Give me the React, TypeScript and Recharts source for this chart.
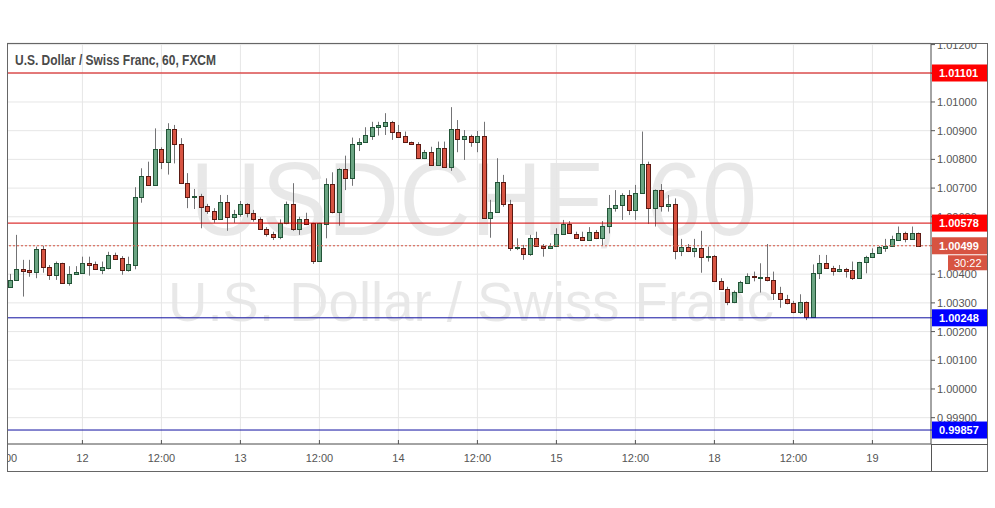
import React from 'react';
import { ComposedChart, Bar, XAxis, YAxis, CartesianGrid, ReferenceLine } from 'recharts';

// ---- data (hourly candles, USDCHF 60) ----
const opens = [
  1.00354, 1.00379, 1.00418, 1.00414, 1.00407, 1.00487, 1.00424, 1.00398, 1.00438, 1.00370,
  1.00400, 1.00405, 1.00439, 1.00435, 1.00416, 1.00423, 1.00466, 1.00456, 1.00416, 1.00433,
  1.00668, 1.00742, 1.00710, 1.00836, 1.00790, 1.00905, 1.00853, 1.00719, 1.00670, 1.00672,
  1.00637, 1.00621, 1.00591, 1.00650, 1.00600, 1.00610, 1.00643, 1.00613, 1.00591, 1.00557,
  1.00539, 1.00529, 1.00577, 1.00645, 1.00557, 1.00591, 1.00577, 1.00447, 1.00574, 1.00713,
  1.00618, 1.00767, 1.00734, 1.00853, 1.00860, 1.00883, 1.00912, 1.00917, 1.00929, 1.00894,
  1.00881, 1.00860, 1.00853, 1.00804, 1.00825, 1.00779, 1.00839, 1.00772, 1.00906, 1.00870,
  1.00880, 1.00862, 1.00880, 1.00597, 1.00616, 1.00722, 1.00644, 1.00492, 1.00492, 1.00471,
  1.00527, 1.00499, 1.00492, 1.00499, 1.00539, 1.00576, 1.00541, 1.00528, 1.00520, 1.00548,
  1.00525, 1.00567, 1.00630, 1.00641, 1.00676, 1.00624, 1.00682, 1.00784, 1.00630, 1.00693,
  1.00637, 1.00645, 1.00481, 1.00494, 1.00481, 1.00491, 1.00459, 1.00463, 1.00375, 1.00347,
  1.00303, 1.00338, 1.00371, 1.00394, 1.00389, 1.00390, 1.00379, 1.00334, 1.00314, 1.00299,
  1.00267, 1.00302, 1.00252, 1.00403, 1.00438, 1.00421, 1.00411, 1.00418, 1.00415, 1.00388,
  1.00442, 1.00459, 1.00473, 1.00492, 1.00499, 1.00519, 1.00543, 1.00522, 1.00543,
];
const highs = [
  1.00401, 1.00537, 1.00450, 1.00450, 1.00496, 1.00499, 1.00432, 1.00444, 1.00440, 1.00428,
  1.00428, 1.00461, 1.00461, 1.00444, 1.00444, 1.00478, 1.00475, 1.00463, 1.00461, 1.00703,
  1.00769, 1.00792, 1.00908, 1.00842, 1.00926, 1.00920, 1.00874, 1.00752, 1.00697, 1.00680,
  1.00645, 1.00630, 1.00676, 1.00676, 1.00624, 1.00655, 1.00647, 1.00624, 1.00598, 1.00564,
  1.00548, 1.00591, 1.00653, 1.00717, 1.00600, 1.00614, 1.00579, 1.00579, 1.00734, 1.00755,
  1.00769, 1.00813, 1.00876, 1.00874, 1.00912, 1.00931, 1.00931, 1.00961, 1.00934, 1.00920,
  1.00897, 1.00862, 1.00860, 1.00833, 1.00844, 1.00862, 1.00862, 1.00982, 1.00937, 1.00902,
  1.00886, 1.00899, 1.00931, 1.00659, 1.00804, 1.00746, 1.00659, 1.00525, 1.00502, 1.00537,
  1.00548, 1.00505, 1.00508, 1.00560, 1.00589, 1.00585, 1.00548, 1.00548, 1.00564, 1.00554,
  1.00585, 1.00676, 1.00693, 1.00682, 1.00693, 1.00711, 1.00897, 1.00792, 1.00695, 1.00714,
  1.00676, 1.00664, 1.00523, 1.00505, 1.00523, 1.00551, 1.00496, 1.00467, 1.00386, 1.00356,
  1.00343, 1.00377, 1.00403, 1.00409, 1.00438, 1.00505, 1.00409, 1.00356, 1.00328, 1.00307,
  1.00330, 1.00305, 1.00434, 1.00467, 1.00467, 1.00429, 1.00432, 1.00422, 1.00444, 1.00443,
  1.00464, 1.00490, 1.00498, 1.00523, 1.00534, 1.00566, 1.00548, 1.00566, 1.00545,
];
const lows = [
  1.00352, 1.00377, 1.00322, 1.00391, 1.00386, 1.00405, 1.00380, 1.00380, 1.00368, 1.00360,
  1.00398, 1.00403, 1.00395, 1.00415, 1.00400, 1.00417, 1.00452, 1.00398, 1.00409, 1.00417,
  1.00649, 1.00708, 1.00708, 1.00766, 1.00747, 1.00786, 1.00714, 1.00630, 1.00627, 1.00560,
  1.00610, 1.00579, 1.00589, 1.00551, 1.00579, 1.00600, 1.00598, 1.00583, 1.00554, 1.00531,
  1.00519, 1.00522, 1.00574, 1.00551, 1.00537, 1.00571, 1.00436, 1.00445, 1.00525, 1.00612,
  1.00569, 1.00693, 1.00708, 1.00829, 1.00857, 1.00868, 1.00883, 1.00885, 1.00868, 1.00876,
  1.00857, 1.00850, 1.00801, 1.00801, 1.00777, 1.00777, 1.00770, 1.00760, 1.00825, 1.00798,
  1.00844, 1.00825, 1.00595, 1.00527, 1.00614, 1.00635, 1.00481, 1.00484, 1.00450, 1.00464,
  1.00496, 1.00461, 1.00488, 1.00498, 1.00537, 1.00540, 1.00525, 1.00518, 1.00518, 1.00522,
  1.00499, 1.00542, 1.00618, 1.00589, 1.00606, 1.00589, 1.00680, 1.00575, 1.00566, 1.00618,
  1.00618, 1.00452, 1.00463, 1.00477, 1.00459, 1.00405, 1.00444, 1.00373, 1.00345, 1.00292,
  1.00299, 1.00336, 1.00366, 1.00375, 1.00336, 1.00375, 1.00310, 1.00283, 1.00295, 1.00264,
  1.00262, 1.00240, 1.00248, 1.00383, 1.00418, 1.00395, 1.00407, 1.00388, 1.00380, 1.00386,
  1.00403, 1.00457, 1.00471, 1.00478, 1.00497, 1.00516, 1.00511, 1.00520, 1.00497,
];
const closes = [
  1.00380, 1.00417, 1.00412, 1.00407, 1.00487, 1.00424, 1.00398, 1.00438, 1.00370, 1.00401,
  1.00408, 1.00438, 1.00433, 1.00417, 1.00424, 1.00466, 1.00454, 1.00416, 1.00434, 1.00668,
  1.00742, 1.00710, 1.00835, 1.00790, 1.00905, 1.00853, 1.00719, 1.00670, 1.00672, 1.00635,
  1.00621, 1.00591, 1.00650, 1.00600, 1.00610, 1.00643, 1.00612, 1.00591, 1.00557, 1.00539,
  1.00529, 1.00577, 1.00645, 1.00557, 1.00591, 1.00575, 1.00447, 1.00577, 1.00713, 1.00618,
  1.00767, 1.00734, 1.00853, 1.00860, 1.00885, 1.00912, 1.00920, 1.00929, 1.00894, 1.00879,
  1.00860, 1.00853, 1.00804, 1.00825, 1.00779, 1.00839, 1.00772, 1.00906, 1.00870, 1.00880,
  1.00862, 1.00880, 1.00597, 1.00616, 1.00722, 1.00644, 1.00492, 1.00494, 1.00471, 1.00527,
  1.00499, 1.00492, 1.00499, 1.00539, 1.00576, 1.00542, 1.00527, 1.00520, 1.00548, 1.00525,
  1.00567, 1.00630, 1.00641, 1.00676, 1.00624, 1.00682, 1.00784, 1.00630, 1.00693, 1.00637,
  1.00645, 1.00481, 1.00494, 1.00481, 1.00491, 1.00459, 1.00463, 1.00375, 1.00347, 1.00303,
  1.00338, 1.00373, 1.00394, 1.00389, 1.00391, 1.00378, 1.00334, 1.00314, 1.00299, 1.00267,
  1.00302, 1.00252, 1.00403, 1.00438, 1.00420, 1.00411, 1.00418, 1.00412, 1.00388, 1.00442,
  1.00459, 1.00473, 1.00495, 1.00499, 1.00522, 1.00543, 1.00522, 1.00543, 1.00499,
];

const timeTicks = [-1, 11, 23, 35, 47, 59, 71, 83, 95, 107, 119, 131];
const timeLabels = ['12:00', '12', '12:00', '13', '12:00', '14', '12:00', '15', '12:00', '18', '12:00', '19'];
const priceTicks = [0.999, 1.0, 1.001, 1.002, 1.003, 1.004, 1.005, 1.006, 1.007, 1.008, 1.009, 1.01, 1.011, 1.012];
const resistanceLevels = [1.01101, 1.00578];
const supportLevels = [1.00248, 0.99857];
const lastPrice = 1.00499;
const countdown = '30:22';
const titleText = 'U.S. Dollar / Swiss Franc, 60, FXCM';
const watermarkSymbol = 'USDCHF, 60';
const watermarkName = 'U.S. Dollar / Swiss Franc';

const data = opens.map((o, i) => ({
  i,
  open: o,
  high: highs[i],
  low: lows[i],
  close: closes[i],
  range: [lows[i], highs[i]],
}));

// ---- layout / style ----
const W = 995;
const H = 508;
const PL = 7;
const PR = 931;
const PT = 43;
const PB = 444;
const FB = 471;
const FR = 988;
const X_DOMAIN: [number, number] = [-0.456, 139.9];
const Y_DOMAIN: [number, number] = [0.998083, 1.012055];
const MARGIN = { top: PT, right: W - FR, bottom: H - FB, left: PL };
const FONT = "Arial, 'Liberation Sans', sans-serif";
const UP = '#6ba583';
const DOWN = '#d75442';
const UP_BORDER = '#225437';
const DOWN_BORDER = '#5b1a13';
const WICK = '#737375';

const Candle = (props: any) => {
  const { x, y, width, height, payload } = props;
  if (!payload || x == null || y == null) return null;
  const top = Math.min(y, y + height);
  const h = Math.abs(height);
  const { open, close, high, low } = payload;
  const k = h / Math.max(high - low, 1e-9);
  const cx = Math.floor(x + width / 2) + 0.5;
  const yO = top + (high - open) * k;
  const yC = top + (high - close) * k;
  const up = close >= open;
  let b1 = Math.round(Math.min(yO, yC)) + 0.5;
  let b2 = Math.round(Math.max(yO, yC)) + 0.5;
  if (b2 - b1 < 1) b2 = b1 + 1;
  return (
    <g>
      <line x1={cx} x2={cx} y1={top} y2={top + h} stroke={WICK} strokeWidth={1} />
      <rect
        x={cx - 2}
        y={b1}
        width={4}
        height={b2 - b1}
        fill={up ? UP : DOWN}
        stroke={up ? UP_BORDER : DOWN_BORDER}
        strokeWidth={1}
      />
    </g>
  );
};

const PriceTag = (props: any) => {
  const { viewBox, bg, text, sub } = props;
  if (!viewBox) return null;
  const px = viewBox.x + viewBox.width;
  const py = viewBox.y;
  return (
    <g>
      <line x1={px} x2={px + 4} y1={py} y2={py} stroke={bg} />
      <rect x={px + 1} y={py - 8.5} width={56} height={17} fill={bg} />
      <text x={px + 8} y={py + 4} fill="#ffffff" fontSize={11} fontWeight="bold" fontFamily={FONT}>
        {text}
      </text>
      {sub ? (
        <g>
          <rect x={px + 17} y={py + 9.5} width={40} height={15} fill={bg} />
          <text x={px + 23} y={py + 21} fill="#ffffff" fontSize={11} fontFamily={FONT}>
            {sub}
          </text>
        </g>
      ) : null}
    </g>
  );
};

const YTick = (props: any) => {
  const { x, y, payload } = props;
  return (
    <g>
      <defs>
        <clipPath id="yTickClip">
          <rect x={PR} y={PT + 1} width={FR - PR} height={PB - PT} />
        </clipPath>
      </defs>
      <g clipPath="url(#yTickClip)">
        <line x1={PR} x2={PR + 4} y1={y} y2={y} stroke="#555" />
        <text x={x} y={y + 4} fill="#555" fontSize={11} fontFamily={FONT}>
          {Number(payload.value).toFixed(5)}
        </text>
      </g>
    </g>
  );
};

const XTick = (props: any) => {
  const { x, payload } = props;
  const idx = timeTicks.indexOf(payload.value);
  return (
    <g>
      <defs>
        <clipPath id="xTickClip">
          <rect x={PL + 1} y={PB - 10} width={PR - PL - 1} height={FB - PB + 10} />
        </clipPath>
      </defs>
      <g clipPath="url(#xTickClip)">
        <line x1={x} x2={x} y1={PB - 4} y2={PB} stroke="#555" />
        <text x={x} y={PB + 18} textAnchor="middle" fill="#555" fontSize={11} fontFamily={FONT}>
          {idx >= 0 ? timeLabels[idx] : ''}
        </text>
      </g>
    </g>
  );
};

export default function App() {
  return (
    <div style={{ position: 'absolute', left: 0, top: 0, width: W, height: H, background: '#fff' }}>
      {/* watermark behind */}
      <svg width={W} height={H} style={{ position: 'absolute', left: 0, top: 0 }}>
        <defs>
          <clipPath id="wmClip">
            <rect x={PL} y={PT} width={PR - PL} height={PB - PT} />
          </clipPath>
        </defs>
        <g clipPath="url(#wmClip)" fill="#000" fillOpacity={0.09} fontFamily={FONT}>
          <text x={190} y={235} fontSize={104} textLength={567} lengthAdjust="spacingAndGlyphs">
            {watermarkSymbol}
          </text>
          <text x={168} y={321} fontSize={56} textLength={606} lengthAdjust="spacingAndGlyphs">
            {watermarkName}
          </text>
        </g>
      </svg>
      {/* main chart: grid, axes, candles */}
      <div style={{ position: 'absolute', left: 0, top: 0 }}>
        <ComposedChart width={W} height={H} data={data} margin={MARGIN}>
          <CartesianGrid stroke="#e6e6e6" />
          <XAxis
            dataKey="i"
            type="number"
            domain={X_DOMAIN}
            allowDataOverflow
            ticks={timeTicks}
            interval={0}
            height={FB - PB}
            tick={<XTick />}
            tickLine={false}
            axisLine={{ stroke: '#555' }}
          />
          <YAxis
            type="number"
            orientation="right"
            domain={Y_DOMAIN}
            allowDataOverflow
            ticks={priceTicks}
            interval={0}
            width={FR - PR}
            tick={<YTick />}
            tickLine={false}
            tickSize={4}
            tickMargin={2}
            axisLine={{ stroke: '#555' }}
          />
          <Bar dataKey="range" barSize={5} isAnimationActive={false} shape={(p: any) => <Candle {...p} />} />
        </ComposedChart>
      </div>
      {/* overlay chart with the same scales: horizontal levels and price tags on top */}
      <div style={{ position: 'absolute', left: 0, top: 0, pointerEvents: 'none' }}>
        <ComposedChart width={W} height={H} data={data} margin={MARGIN}>
          <XAxis
            dataKey="i"
            type="number"
            domain={X_DOMAIN}
            allowDataOverflow
            ticks={timeTicks}
            height={FB - PB}
            tick={false}
            tickLine={false}
            axisLine={false}
          />
          <YAxis
            type="number"
            orientation="right"
            domain={Y_DOMAIN}
            allowDataOverflow
            ticks={priceTicks}
            width={FR - PR}
            tick={false}
            tickLine={false}
            axisLine={false}
          />
          {resistanceLevels.map((v) => (
            <ReferenceLine
              key={'r' + v}
              y={v}
              stroke="#d40000"
              strokeWidth={1}
              label={<PriceTag bg="#ff0000" text={v.toFixed(5)} />}
            />
          ))}
          {supportLevels.map((v) => (
            <ReferenceLine
              key={'s' + v}
              y={v}
              stroke="#1010a0"
              strokeWidth={1}
              label={<PriceTag bg="#0000ff" text={v.toFixed(5)} />}
            />
          ))}
          <ReferenceLine
            y={lastPrice}
            stroke="#d75442"
            strokeDasharray="2 2"
            label={<PriceTag bg="#d75442" text={lastPrice.toFixed(5)} sub={countdown} />}
          />
        </ComposedChart>
      </div>
      {/* frame and title on top */}
      <svg width={W} height={H} style={{ position: 'absolute', left: 0, top: 0, pointerEvents: 'none' }}>
        <rect x={0} y={PT} width={PL} height={PB - PT} fill="#fff" />
        <rect x={PL + 0.5} y={PT + 0.5} width={FR - PL - 1} height={FB - PT} fill="none" stroke="#666" />
        <line x1={PR} x2={FR} y1={PB + 0.5} y2={PB + 0.5} stroke="#555" />
        <line x1={PR + 0.5} x2={PR + 0.5} y1={PB} y2={FB} stroke="#555" />
        <text
          x={15}
          y={65}
          fontSize={14}
          fontWeight="bold"
          fill="#4a4a4a"
          fontFamily={FONT}
          textLength={201}
          lengthAdjust="spacingAndGlyphs"
        >
          {titleText}
        </text>
      </svg>
    </div>
  );
}
